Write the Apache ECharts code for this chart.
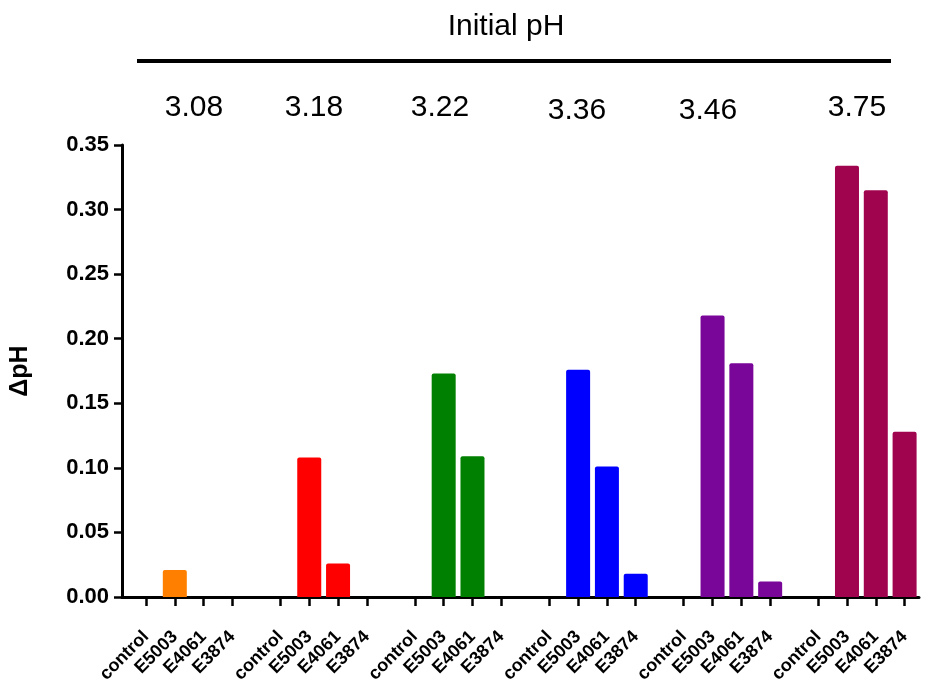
<!DOCTYPE html>
<html>
<head>
<meta charset="utf-8">
<script src="https://cdn.jsdelivr.net/npm/echarts@6/dist/echarts.min.js"></script>
<style>
  html, body { margin: 0; padding: 0; background: #fff; }
  #main { width: 925px; height: 684px; }
</style>
</head>
<body>
<div id="main"></div>
<script>
// data
var samples = ['control', 'E5003', 'E4061', 'E3874'];
var initialPH = ['3.08', '3.18', '3.22', '3.36', '3.46', '3.75'];
var groupColors = ['#ff8000', '#ff0000', '#008000', '#0000ff', '#790599', '#a1044e'];
var deltaPH = [
    [0, 0.021, 0, 0],
    [0, 0.108, 0.026, 0],
    [0, 0.173, 0.109, 0],
    [0, 0.176, 0.101, 0.018],
    [0, 0.218, 0.181, 0.012],
    [0, 0.334, 0.315, 0.128]
];
var yTicks = ['0.00', '0.05', '0.10', '0.15', '0.20', '0.25', '0.30', '0.35'];

// slot layout on the category axis: 3 slots per bar, 14 per group, 2 blank slots in front
var slotCount = 83;
var slots = [], slotNames = [], barData = [], isTick = [];
for (var i = 0; i < slotCount; i++) {
    slots.push('s' + i);
    slotNames.push('');
    barData.push('-');
    isTick.push(false);
}
for (var g = 0; g < initialPH.length; g++) {
    for (var s = 0; s < samples.length; s++) {
        var idx = 2 + g * 14 + s * 3;
        slotNames[idx] = samples[s];
        isTick[idx] = true;
        barData[idx] = { value: deltaPH[g][s], itemStyle: { color: groupColors[g] } };
    }
}

var myChart = echarts.init(document.getElementById('main'));

var font = 'Liberation Sans, Arial, sans-serif';
var labelX = [194, 314, 440, 577, 708, 857];
var labelY = [108, 108, 108, 111, 111, 108];
var graphics = [
    {
        type: 'text', x: 506, y: 27,
        style: { text: 'Initial pH', fontSize: 30, fontFamily: font, fill: '#000', align: 'center', verticalAlign: 'middle' }
    },
    {
        type: 'line',
        shape: { x1: 137, y1: 61, x2: 891, y2: 61 },
        style: { stroke: '#000', lineWidth: 4 }
    }
];
for (var k = 0; k < initialPH.length; k++) {
    graphics.push({
        type: 'text', x: labelX[k], y: labelY[k],
        style: {
            text: initialPH[k], fontSize: 30, fill: '#000', fontFamily: font,
            align: 'center', verticalAlign: 'middle'
        }
    });
}

var option = {
    animation: false,
    grid: { left: 122, top: 145, width: 797, height: 452, containLabel: false, outerBoundsMode: 'none' },
    graphic: graphics,
    xAxis: {
        type: 'category',
        data: slots,
        axisLine: { lineStyle: { color: '#000', width: 3 } },
        axisTick: {
            show: true,
            alignWithLabel: true,
            interval: function (i) { return isTick[i]; },
            length: 9,
            lineStyle: { color: '#000', width: 2.5 }
        },
        axisLabel: {
            interval: function (i) { return isTick[i]; },
            formatter: function (v, i) { return slotNames[i]; },
            rotate: 45,
            margin: 37,
            fontSize: 18,
            fontWeight: 'bold',
            fontFamily: font,
            color: '#000'
        },
        splitLine: { show: false }
    },
    yAxis: {
        type: 'value',
        min: 0,
        max: 0.35,
        interval: 0.05,
        name: 'ΔpH',
        nameLocation: 'middle',
        nameGap: 89,
        nameTextStyle: { fontSize: 25, fontWeight: 'bold', color: '#000', fontFamily: font },
        axisLine: { show: true, lineStyle: { color: '#000', width: 3 } },
        axisTick: { show: true, length: 8, lineStyle: { color: '#000', width: 2.5 } },
        axisLabel: {
            formatter: function (v) { return yTicks[Math.round(v / 0.05)]; },
            fontSize: 22,
            fontWeight: 'bold',
            fontFamily: font,
            color: '#000',
            margin: 13
        },
        splitLine: { show: false }
    },
    series: [
        {
            name: 'ΔpH',
            type: 'bar',
            barWidth: 24,
            data: barData,
            itemStyle: { borderRadius: [2, 2, 0, 0] }
        }
    ]
};

myChart.setOption(option);
</script>
</body>
</html>
